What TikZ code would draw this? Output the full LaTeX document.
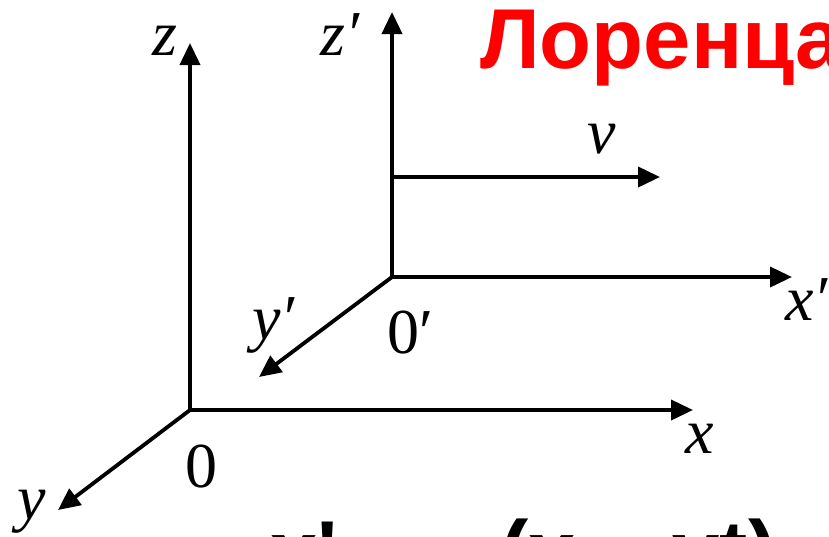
\documentclass[tikz,border=0pt]{standalone}
\usepackage{fontspec}
\setmainfont{Liberation Serif}
\newfontfamily\arialb{Liberation Sans}
\usetikzlibrary{arrows.meta}
\begin{document}
\begin{tikzpicture}[x=1pt,y=-1pt,
  axis/.style={line width=3.8pt,line join=miter,-{Triangle[length=22pt,width=20pt]}},
  axistwo/.style={line width=3.8pt,line join=miter,{Triangle[length=22pt,width=20pt]}-{Triangle[length=22pt,width=20pt]}},
  lbl/.style={inner sep=0pt,anchor=base west,font=\fontsize{64}{64}\selectfont\itshape},
  num/.style={inner sep=0pt,anchor=base west,font=\fontsize{64}{64}\selectfont},
  big/.style={inner sep=0pt,anchor=base west,font=\fontsize{85}{85}\selectfont\arialb\bfseries}]
\useasboundingbox (0,0) rectangle (829,536);
\clip (0,0) rectangle (829,536);
% unprimed frame
\coordinate (O) at (190,410);
\coordinate (Zt) at (190,43);
\coordinate (Xt) at (693,410);
\coordinate (Yt) at (58,510);
% primed frame
\coordinate (Op) at (392,277);
\coordinate (Zpt) at (392,12);
\coordinate (Xpt) at (792,277);
\coordinate (Ypt) at (259,377);
\coordinate (V0) at (392,177);
\coordinate (Vt) at (660,177);

\draw[axistwo] (Zt) -- (O) -- (Xt);
\draw[axis] (O) -- (Yt);
\draw[axistwo] (Zpt) -- (Op) -- (Xpt);
\draw[axis] (Op) -- (Ypt);
\draw[axis] (V0) -- (Vt);

\node[lbl] (lz) at (152,55) {z};
\node[lbl] (lzp) at (320,55) {z′};
\node[lbl] (lv) at (587,153) {v};
\node[lbl] (lxp) at (785,320) {x′};
\node[lbl] (lx) at (685,453) {x};
\node[lbl] (lyp) at (252,339) {y′};
\node[num] (lop) at (387,353) {0′};
\node[num] (lo) at (185,487) {0};
\node[lbl] (ly) at (17,519) {y};

\node[big,text=red] (title) at (480,68) {Лоренца};
\node[big] (f1) at (270,580) {x\char"27};
\node[big] (f2) at (500,580) {(x − vt)};
\end{tikzpicture}
\end{document}
